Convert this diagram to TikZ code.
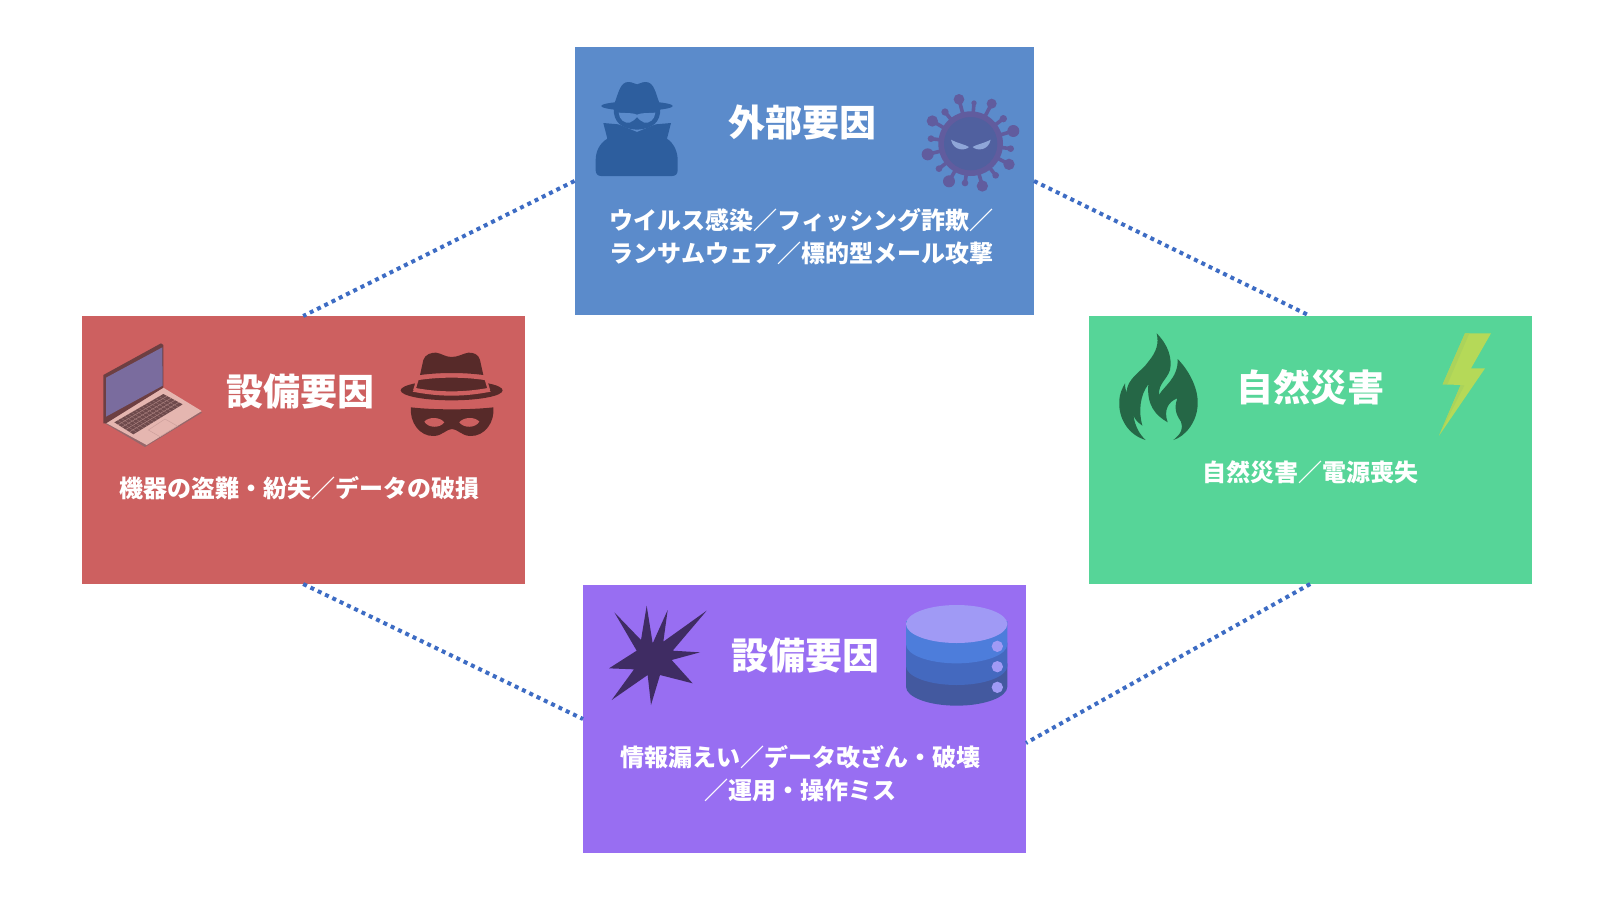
\documentclass[tikz,border=0pt]{standalone}
\usepackage{fontspec}
\usetikzlibrary{calc}
\setmainfont{Noto Sans CJK JP}
\definecolor{cblue}{HTML}{5B8BCB}
\definecolor{cred}{HTML}{CD6060}
\definecolor{cgreen}{HTML}{56D598}
\definecolor{cpurple}{HTML}{986EF2}
\definecolor{cline}{HTML}{3D6CC4}
\definecolor{spy}{HTML}{2D5E9E}
\definecolor{virA}{HTML}{615C9E}
\definecolor{virB}{HTML}{50609F}
\definecolor{virE}{HTML}{8FA6D8}
\definecolor{bandit}{HTML}{572A29}
\definecolor{flame}{HTML}{256746}
\definecolor{boltA}{HTML}{B5D958}
\definecolor{boltB}{HTML}{ABD35B}
\definecolor{blast}{HTML}{3F2C63}
\definecolor{dbtop}{HTML}{A09AF5}
\definecolor{dbA}{HTML}{4D7DDB}
\definecolor{dbB}{HTML}{4469BF}
\definecolor{dbC}{HTML}{43599F}
\definecolor{lapbez}{HTML}{6D3F42}
\definecolor{lapscr}{HTML}{7A6C9E}
\definecolor{lapbase}{HTML}{E5B6B0}
\definecolor{lapedge}{HTML}{96676A}
\definecolor{lapkey}{HTML}{6E4A4C}
\tikzset{
  box/.style={rectangle,inner sep=0pt,outer sep=0pt,anchor=north west},
  title/.style={text=white,font=\fontsize{37}{37}\selectfont\bfseries,inner sep=0pt},
  body/.style={text=white,font=\fontsize{24}{33}\selectfont\bfseries,inner sep=0pt,align=center},
  link/.style={draw=cline,line width=4pt,dash pattern=on 4pt off 4.1pt},
  zoomed/.style={x=0.33333pt,y=-0.33333pt}
}
\begin{document}
\begin{tikzpicture}[x=1pt,y=-1pt]
\useasboundingbox (0,0) rectangle (1600,900);
\fill[white] (0,0) rectangle (1600,900);
% boxes
\node[box,fill=cblue,minimum width=459.5pt,minimum height=268pt] (top) at (574.5,47) {};
\node[box,fill=cred,minimum width=443pt,minimum height=268pt] (left) at (81.7,316) {};
\node[box,fill=cgreen,minimum width=443pt,minimum height=268pt] (right) at (1088.7,316) {};
\node[box,fill=cpurple,minimum width=443pt,minimum height=268pt] (bottom) at (583,585) {};
\coordinate (bottomport) at ([yshift=-24pt]bottom.east);
% connectors
\draw[link] (top.west) -- (left.north);
\draw[link] (top.east) -- (right.north);
\draw[link] (left.south) -- (bottom.west);
\draw[link] (right.south) -- (bottomport);
% texts
\node[title] (t1) at (802,123) {外部要因};
\node[body] (b1) at (801.5,236.5) {ウイルス感染／フィッシング詐欺／\\ランサムウェア／標的型メール攻撃};
\node[title] (t2) at (300,392) {設備要因};
\node[body] (b2) at (299.5,488.5) {機器の盗難・紛失／データの破損};
\node[title] (t3) at (1310,387.5) {自然災害};
\node[body] (b3) at (1310,472.5) {自然災害／電源喪失};
\node[title] (t4) at (805,656) {設備要因};
\node[body] (b4) at (800.5,774) {情報漏えい／データ改ざん・破壊\\／運用・操作ミス};
% spy + virus
\begin{scope}[shift={(575,47)},zoomed]
  \fill[spy] (186,177) ellipse [x radius=107,y radius=14];
  \fill[spy] (118,170) .. controls (130,140) and (135,105) .. (160,105)
     .. controls (175,105) and (178,112) .. (186,112) .. controls (194,112) and (197,105) .. (212,105)
     .. controls (238,105) and (242,140) .. (254,170) -- cycle;
  \fill[spy] (116,185) -- (256,185) .. controls (256,225) and (235,245) .. (186,248) .. controls (137,245) and (116,225) .. (116,185) -- cycle;
  \fill[cblue] (131,197) .. controls (160,199) and (172,197) .. (186,203) .. controls (200,197) and (212,199) .. (241,197)
     .. controls (240,218) and (222,230) .. (208,227) .. controls (198,225) and (192,215) .. (186,210)
     .. controls (180,215) and (174,225) .. (164,227) .. controls (150,230) and (132,218) .. (131,197) -- cycle;
  \fill[spy] (85,228) -- (130,232) -- (186,255) -- (242,232) -- (288,228) -- (276,275)
     .. controls (298,290) and (308,315) .. (308,340) -- (308,370) .. controls (308,380) and (302,387) .. (292,387)
     -- (78,387) .. controls (68,387) and (62,380) .. (62,370) -- (62,340)
     .. controls (62,315) and (72,290) .. (97,275) -- cycle;
  % virus
  \foreach \bx/\by/\br in {1152/157/16,1072/222/17,1315/252/18,1058/322/18,1122/403/18,1222/417/17,1302/352/17,1250/170/15,1197/168/8,1110/195/11,1285/215/11,1068/275/10,1307/305/10,1092/365/10,1170/408/10,1262/385/10}{
    \draw[virA,line width=3.6pt] (1187,290) -- (\bx,\by);
    \fill[virA] (\bx,\by) circle [radius=\br];
  }
  \fill[virA] (1187,290) circle [radius=97];
  \fill[virB] (1187,290) circle [radius=80];
  \fill[virE] (1128,278) .. controls (1150,290) and (1170,292) .. (1182,300) .. controls (1170,312) and (1135,312) .. (1128,278) -- cycle;
  \fill[virE] (1247,278) .. controls (1225,290) and (1205,292) .. (1193,300) .. controls (1205,312) and (1240,312) .. (1247,278) -- cycle;
\end{scope}
% laptop + bandit
\begin{scope}[shift={(80,315)},zoomed]
  \fill[lapedge] (75,325) -- (195,396) -- (366,293) -- (250,222) -- cycle;
  \fill[lapbase] (75,322) -- (250,218) -- (365,288) -- (200,390) -- cycle;
  \fill[lapkey] (103,322) -- (250,237) -- (308,268) -- (160,358) -- cycle;
  \foreach \t in {0.2,0.4,0.6,0.8}{
    \draw[lapbase!60!lapkey,line width=0.4pt] ($(103,322)!\t!(160,358)$) -- ($(250,237)!\t!(308,268)$);
  }
  \foreach \t in {0.07,0.14,...,0.95}{
    \draw[lapbase!45!lapkey,line width=0.3pt] ($(103,322)!\t!(250,237)$) -- ($(160,358)!\t!(308,268)$);
  }
  \draw[lapbase!80!lapkey,line width=0.5pt] (205,345) -- (255,312) -- (292,333) -- (240,365) -- cycle;
  \fill[lapbez] (70,180) -- (243,85) -- (250,90) -- (250,218) -- (78,325) -- (70,325) -- cycle;
  \fill[lapscr] (78,188) -- (247,97) -- (248,212) -- (78,305) -- cycle;
  % bandit
  \fill[bandit] (1115,226) ellipse [x radius=153,y radius=30];
  \draw[cred,fill=bandit,line width=2.3pt] (1013,192) .. controls (1080,182) and (1150,182) .. (1217,192)
     -- (1226,222) .. controls (1150,236) and (1080,236) .. (1004,222) -- cycle;
  \fill[cred] (1004,222) .. controls (1080,238) and (1150,238) .. (1226,222) -- (1232,230) .. controls (1150,246) and (1080,246) .. (998,230) -- cycle;
  \fill[bandit] (1020,180) -- (1030,135) .. controls (1035,118) and (1055,112) .. (1068,113)
     .. controls (1085,115) and (1095,126) .. (1115,126) .. controls (1135,126) and (1150,115) .. (1165,113)
     .. controls (1180,112) and (1196,118) .. (1200,135) -- (1210,180) .. controls (1150,172) and (1080,172) .. (1020,180) -- cycle;
  \fill[bandit] (993,277) .. controls (1060,285) and (1170,285) .. (1240,277)
     .. controls (1245,320) and (1215,365) .. (1170,363) .. controls (1145,362) and (1132,342) .. (1116,342)
     .. controls (1100,342) and (1087,362) .. (1062,363) .. controls (1018,365) and (988,320) .. (993,277) -- cycle;
  \fill[cred] (1033,320) .. controls (1045,305) and (1080,305) .. (1093,322) .. controls (1080,340) and (1045,340) .. (1033,320) -- cycle;
  \fill[cred] (1198,320) .. controls (1186,305) and (1151,305) .. (1138,322) .. controls (1151,340) and (1186,340) .. (1198,320) -- cycle;
\end{scope}
% flame + bolt
\begin{scope}[shift={(1085,315)},zoomed]
  \fill[flame] (215,55) .. controls (250,90) and (262,130) .. (255,165)
    .. controls (245,195) and (220,205) .. (222,240)
    .. controls (235,215) and (280,190) .. (278,132)
    .. controls (320,175) and (340,230) .. (338,265)
    .. controls (338,320) and (300,365) .. (265,375)
    .. controls (290,355) and (295,340) .. (288,320)
    .. controls (270,295) and (268,275) .. (277,250)
    .. controls (250,260) and (235,285) .. (248,322)
    .. controls (210,300) and (185,270) .. (190,208)
    .. controls (165,240) and (160,290) .. (172,332)
    .. controls (155,320) and (148,310) .. (145,300)
    .. controls (150,335) and (165,360) .. (182,375)
    .. controls (130,360) and (100,310) .. (103,260)
    .. controls (103,235) and (112,220) .. (120,205)
    .. controls (120,218) and (122,225) .. (125,232)
    .. controls (125,190) and (170,170) .. (190,140)
    .. controls (215,110) and (222,85) .. (215,55) -- cycle;
  \fill[boltA] (1140,55) -- (1218,55) -- (1158,160) -- (1200,160) -- (1062,362) -- (1127,210) -- (1073,208) -- cycle;
  \fill[boltB] (1140,55) -- (1153,55) -- (1087,208) -- (1073,208) -- cycle;
  \fill[boltB] (1127,210) -- (1138,211) -- (1062,362) -- cycle;
\end{scope}
% blast + database
\begin{scope}[shift={(580,580)},zoomed]
  \fill[blast] (200,77) -- (218,190) -- (263,90) -- (250,185) -- (380,92) -- (278,212) -- (360,217) -- (275,240)
     -- (338,310) -- (240,285) -- (213,375) -- (203,285) -- (95,360) -- (162,268) -- (87,265) -- (170,212) -- (103,97) -- (183,180) -- cycle;
  \foreach \cy/\col in {320/dbC,258/dbB,193/dbA}{
    \fill[\col] (978,\cy-70) -- (1282,\cy-70) -- (1282,\cy) arc [start angle=0,end angle=180,x radius=152,y radius=57] -- cycle;
  }
  \fill[dbtop] (1130,132) ellipse [x radius=152,y radius=57];
  \foreach \cy in {199,260,322}{ \fill[dbtop] (1252,\cy) circle [radius=17]; }
\end{scope}
\end{tikzpicture}
\end{document}
